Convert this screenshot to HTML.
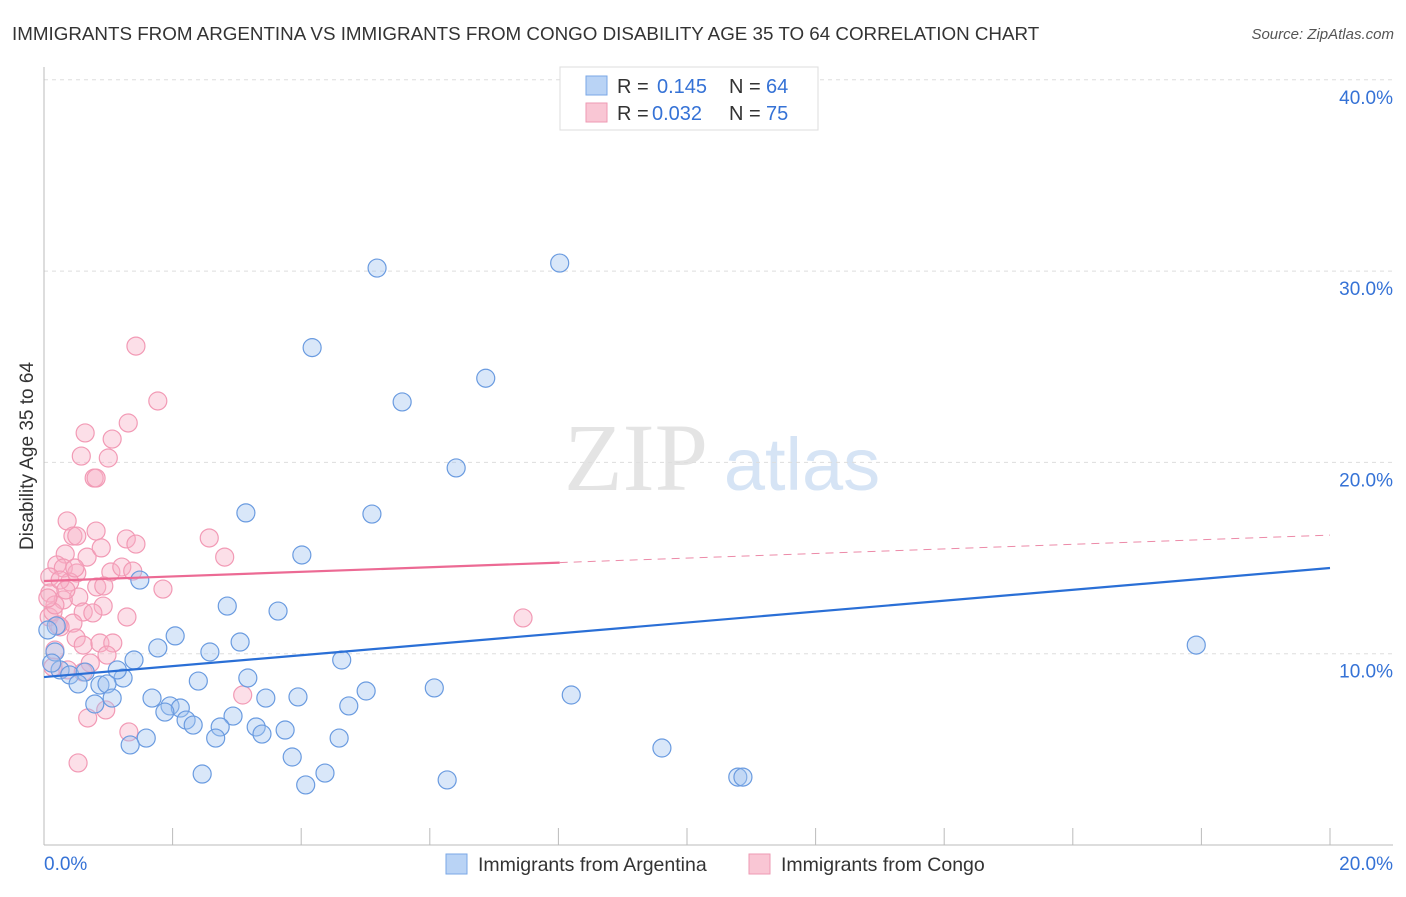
<!DOCTYPE html>
<html><head><meta charset="utf-8">
<style>
body{margin:0;background:#fff;font-family:"Liberation Sans",sans-serif;}
svg text{font-family:"Liberation Sans",sans-serif;}
</style></head>
<body>
<svg id="chart" width="1406" height="892" viewBox="0 0 1406 892">
<text x="12" y="40" font-size="18.8" fill="#333">IMMIGRANTS FROM ARGENTINA VS IMMIGRANTS FROM CONGO DISABILITY AGE 35 TO 64 CORRELATION CHART</text>
<text x="1394" y="39" font-size="15" fill="#555" font-style="italic" text-anchor="end">Source: ZipAtlas.com</text>
<g>
<text x="636" y="490" font-size="96" fill="#e4e4e4" text-anchor="middle" style="font-family:'Liberation Serif',serif">ZIP</text>
<text x="802" y="490" font-size="74" fill="#d6e4f5" text-anchor="middle">atlas</text>
</g>
<g id="grid"></g>
<g id="axes"></g>
<g id="points"></g>
<g id="trends"></g>
<text x="33" y="456" font-size="19" fill="#333" text-anchor="middle" transform="rotate(-90 33 456)">Disability Age 35 to 64</text>
<g>
<rect x="560" y="67" width="258" height="63" fill="#fff" stroke="#ddd"/>
<rect x="586" y="76" width="21" height="19" fill="#b9d3f5" stroke="#7aa7e6"/>
<rect x="586" y="103" width="21" height="19" fill="#f9c6d4" stroke="#ee9ab3"/>
<text x="617" y="93" font-size="20" fill="#333">R = </text><text x="657" y="93" font-size="20" fill="#3572d6">0.145</text>
<text x="729" y="93" font-size="20" fill="#333">N = </text><text x="766" y="93" font-size="20" fill="#3572d6">64</text>
<text x="617" y="120" font-size="20" fill="#333">R = </text><text x="652" y="120" font-size="20" fill="#3572d6">0.032</text>
<text x="729" y="120" font-size="20" fill="#333">N = </text><text x="766" y="120" font-size="20" fill="#3572d6">75</text>
</g>
<g>
<rect x="446" y="854" width="21" height="20" fill="#b9d3f5" stroke="#7aa7e6"/>
<text x="478" y="871" font-size="19.5" fill="#333">Immigrants from Argentina</text>
<rect x="749" y="854" width="21" height="20" fill="#f9c6d4" stroke="#ee9ab3"/>
<text x="781" y="871" font-size="19.5" fill="#333">Immigrants from Congo</text>
</g>
</svg>
<script>
const yTicks=[10,20,30,40];
const yTickLabels=["10.0%","20.0%","30.0%","40.0%"];
const xLabels=["0.0%","20.0%"];
const argX=[5.18,8.02,4.17,6.87,5.57,6.41,3.14,5.10,4.01,1.49,2.85,3.64,2.04,3.05,1.77,17.92,0.17,2.58,1.40,4.63,3.17,1.23,1.14,0.25,0.40,0.64,0.53,0.87,0.98,1.06,0.79,2.40,6.07,5.01,8.20,1.68,3.45,3.95,1.96,2.12,4.74,1.88,2.21,2.32,2.94,2.74,3.30,3.75,3.39,2.67,1.59,1.34,4.59,9.61,3.86,2.46,4.37,4.07,6.27,10.79,10.87,0.19,0.12,0.06];
const argY=[30.16,30.42,26.0,24.4,23.16,19.71,17.36,17.30,15.16,13.85,12.49,12.23,10.93,10.61,10.30,10.45,10.09,10.09,9.67,9.67,8.73,8.73,9.15,9.15,8.89,9.04,8.42,8.36,8.42,7.68,7.37,8.57,8.21,8.05,7.84,7.68,7.68,7.74,7.27,7.16,7.27,6.95,6.53,6.27,6.74,6.17,6.17,6.01,5.80,5.59,5.59,5.23,5.59,5.07,4.60,3.71,3.76,3.14,3.40,3.55,3.55,11.45,9.51,11.24];
const conX=[1.43,1.77,1.31,0.64,1.06,0.58,1.00,0.78,0.81,0.36,0.45,0.51,0.81,1.28,1.43,2.57,2.81,0.33,0.67,0.89,0.20,0.30,0.51,1.04,1.21,1.38,0.09,0.40,0.82,0.93,1.85,0.09,0.54,0.30,0.92,0.61,0.76,1.29,0.08,0.14,0.45,0.25,0.50,0.61,0.87,1.07,0.17,0.98,0.72,0.37,0.61,3.09,0.96,0.68,1.32,0.53,0.14,7.45,0.17,0.25,0.06,0.34,0.22,0.48];
const conY=[26.08,23.21,22.06,21.54,21.22,20.33,20.23,19.18,19.18,16.94,16.15,16.15,16.41,16.0,15.73,16.05,15.05,15.21,15.05,15.53,14.64,14.48,14.22,14.27,14.53,14.32,14.01,13.75,13.49,13.54,13.38,13.17,12.96,12.81,12.49,12.18,12.13,11.92,11.92,12.18,11.60,11.40,10.82,10.45,10.56,10.56,10.19,9.93,9.51,9.15,9.04,7.84,7.06,6.64,5.91,4.29,9.30,11.87,12.55,13.85,12.91,13.33,11.5,14.48];
const argTrend=[8.78,14.48];
const conTrend=[13.8,16.2];
const conSolidEnd=8.02;
const NS="http://www.w3.org/2000/svg";
const X0=44,X1=1330,Y0=845,PPY=19.13;
const sx=v=>X0+v/20*(X1-X0);
const sy=v=>Y0-v*PPY;
function mk(tag,attrs,parent){const e=document.createElementNS(NS,tag);for(const k in attrs)e.setAttribute(k,attrs[k]);document.getElementById(parent).appendChild(e);return e;}
yTicks.forEach((t,i)=>{
 const g=mk('line',{x1:X0,x2:1393,y1:sy(t),y2:sy(t),stroke:'#ddd','stroke-dasharray':'4,4'},'grid');
 
 
 const l=mk('text',{x:1393,y:sy(t)+24,'font-size':19,fill:'#3572d6','text-anchor':'end'},'grid');
 l.textContent=yTickLabels[i];
 
 
});
mk('line',{x1:X0,x2:X0,y1:67,y2:Y0,stroke:'#bbb'},'axes');
mk('line',{x1:X0,x2:1393,y1:Y0,y2:Y0,stroke:'#bbb'},'axes');
for(let i=0;i<=10;i++){mk('line',{x1:sx(i*2),x2:sx(i*2),y1:828,y2:Y0,stroke:'#bbb'},'axes');}
const xl0=mk('text',{x:44,y:870,'font-size':19,fill:'#3572d6'},'axes');xl0.textContent=xLabels[0];


const xl1=mk('text',{x:1393,y:870,'font-size':19,fill:'#3572d6','text-anchor':'end'},'axes');xl1.textContent=xLabels[1];


conX.forEach((v,i)=>{const c=mk('circle',{cx:sx(v),cy:sy(conY[i]),r:9,fill:'rgba(248,175,198,0.4)',stroke:'#f29ab5','stroke-width':1.2},'points');
 
 });
argX.forEach((v,i)=>{const c=mk('circle',{cx:sx(v),cy:sy(argY[i]),r:9,fill:'rgba(160,195,240,0.4)',stroke:'#6a9be0','stroke-width':1.2},'points');
 
 });
const at=mk('line',{x1:sx(0),y1:sy(argTrend[0]),x2:sx(20),y2:sy(argTrend[1]),stroke:'#2a6fd6','stroke-width':2.2},'trends');


const cm=conTrend[0]+(conTrend[1]-conTrend[0])*conSolidEnd/20;
const ct=mk('line',{x1:sx(0),y1:sy(conTrend[0]),x2:sx(conSolidEnd),y2:sy(cm),stroke:'#ec6a94','stroke-width':2.2},'trends');


const cd=mk('line',{x1:sx(conSolidEnd),y1:sy(cm),x2:sx(20),y2:sy(conTrend[1]),stroke:'#ec8aa8','stroke-width':1,'stroke-dasharray':'8,6'},'trends');


</script>
</body></html>
